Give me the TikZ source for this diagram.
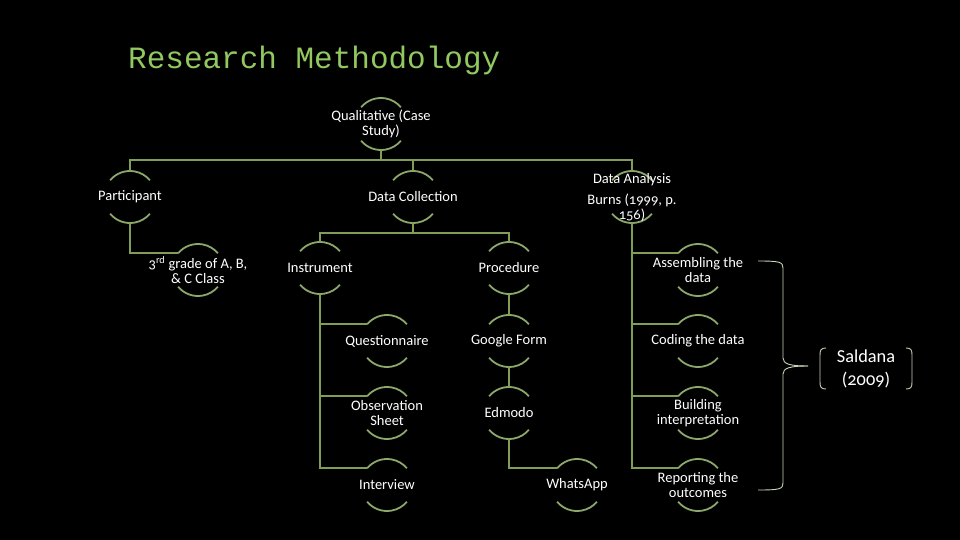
\documentclass[tikz,border=0pt]{standalone}
\usepackage{fontspec}
\setmainfont{Carlito}[Numbers=OldStyle]
\newfontfamily\titlefont{Liberation Mono}
\definecolor{titlegreen}{RGB}{146,200,96}
\definecolor{linegreen}{RGB}{128,158,86}
\definecolor{ringgreen}{RGB}{140,168,106}
\definecolor{bracegray}{RGB}{196,214,182}
\begin{document}
\begin{tikzpicture}[x=1pt, y=1pt,
    wire/.style={draw=linegreen, line width=1.8pt},
    ring/.style={draw=ringgreen, line width=1.8pt},
    stagetext/.style={text=white, align=center, inner sep=0pt,
        font=\fontsize{14.5}{15}\selectfont},
    bracel/.style={draw=bracegray, line width=0.9pt}]
        \fill[black] (0,0) rectangle (960,-540);

        % --- 1. Title ---
        \node[anchor=base west, inner sep=0pt, text=titlegreen,
            font=\titlefont\fontsize{31}{31}\selectfont] (title) at (128,-69) {Research Methodology};

        % --- 2. Stages (text held between two arcs) ---
        \foreach \id/\x/\y/\txt in {
            qual/381/124/{Qualitative (Case\\Study)},
            part/130/197/{Participant},
            dcol/413/197/{Data Collection},
            dana/632/197/{Data Analysis\\[6pt]Burns (1999, p.\\156)},
            grade/198/270/{3\textsuperscript{rd} grade of A, B,\\\& C Class},
            instr/320/268/{Instrument},
            proc/509/268/{Procedure},
            assm/698/270/{Assembling the\\data},
            quest/387/341/{Questionnaire},
            gform/509/341/{Google Form},
            code/698/341/{Coding the data},
            obs/387/413/{Observation\\Sheet},
            edmo/509/413/{Edmodo},
            build/698/413/{Building\\interpretation},
            intv/387/485/{Interview},
            whats/577/485/{WhatsApp},
            report/698/485/{Reporting the\\outcomes}} {
            \draw[ring] ([shift={(140:26)}]\x,-\y) arc[start angle=140, end angle=40, radius=26];
            \draw[ring] ([shift={(220:26)}]\x,-\y) arc[start angle=220, end angle=320, radius=26];
            \node[stagetext] (\id) at (\x,-\y) {\txt};
            \coordinate (\id-t) at (\x,-\y+26);
            \coordinate (\id-b) at (\x,-\y-26);
            \coordinate (\id-l) at ([shift={(140:26)}]\x,-\y);
        }

        % --- 3. Connectors ---
        \draw[wire] (qual-b) -- ++(0,-10) coordinate (topbar);
        \draw[wire] (topbar) -| (part-t);
        \draw[wire] (topbar) -| (dcol-t);
        \draw[wire] (topbar) -| (dana-t);
        \draw[wire] (part-b) |- (grade-l);
        \draw[wire] (dcol-b) -- ++(0,-10) coordinate (midbar);
        \draw[wire] (midbar) -| (instr-t);
        \draw[wire] (midbar) -| (proc-t);
        \foreach \c in {quest, obs, intv} \draw[wire] (instr-b) |- (\c-l);
        \draw[wire] (proc-b) -- (gform-t);
        \draw[wire] (gform-b) -- (edmo-t);
        \draw[wire] (edmo-b) |- (whats-l);
        \foreach \c in {assm, code, build, report} \draw[wire] (dana-b) |- (\c-l);

        % --- 4. Brace and source ---
        \draw[bracel] (758,-261) .. controls (780,-261) and (783,-262) .. (783,-268)
            -- (783,-358) .. controls (783,-364) and (790,-366) .. (808,-366);
        \draw[bracel] (808,-366) .. controls (790,-366) and (783,-368) .. (783,-374)
            -- (783,-483) .. controls (783,-489) and (780,-490) .. (758,-490);
        \node[text=white, align=center, inner sep=0pt,
            font=\fontsize{18.3}{23}\selectfont] (saldana) at (866,-368.5) {Saldana\\(2009)};
        % bracket pair round the source
        \draw[bracel] (826,-348) .. controls (821,-348) and (820,-350) .. (820,-355)
            -- (820,-382) .. controls (820,-387) and (821,-389) .. (826,-389);
        \draw[bracel] (906,-348) .. controls (911,-348) and (912,-350) .. (912,-355)
            -- (912,-382) .. controls (912,-387) and (911,-389) .. (906,-389);
\end{tikzpicture}
\end{document}
